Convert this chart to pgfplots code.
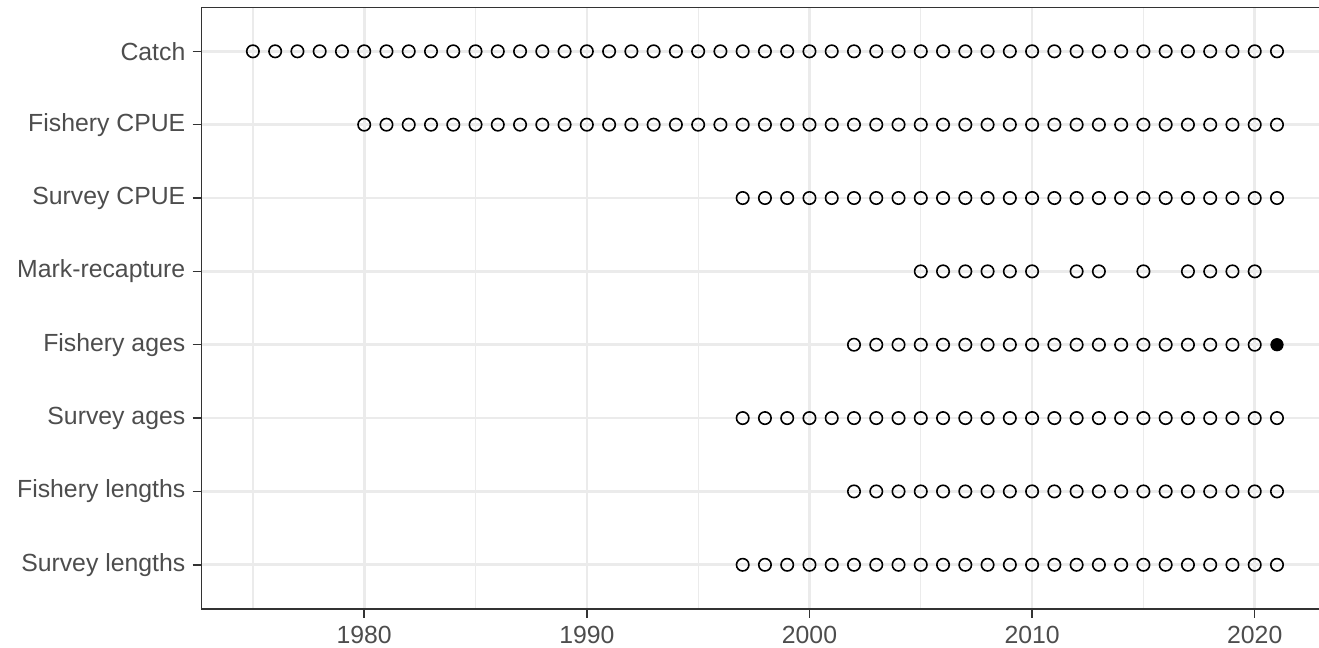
\documentclass[border=0pt]{standalone}
\usepackage{pgfplots}
\pgfplotsset{compat=1.18}
\usepackage{fontspec}
\setmainfont{Liberation Sans}
\definecolor{txtgrey}{HTML}{4D4D4D}
\definecolor{axgrey}{HTML}{333333}
\definecolor{gridgrey}{HTML}{EBEBEB}
\pgfplotsset{pt/.style={only marks, black, mark=o, mark size=3.1pt, mark options={line width=0.8pt, draw=black}}}
\begin{document}
\begin{tikzpicture}
\begin{axis}[
  at={(0,0)}, anchor=south west,
  scale only axis, width=563.25pt, height=300.75pt,
  xmin=1972.7, xmax=2023.3, ymin=0.4, ymax=8.6,
  xtick={1980,1990,2000,2010,2020},
  minor xtick={1975,1985,1995,2005,2015},
  ytick={1,2,3,4,5,6,7,8},
  yticklabels={Survey lengths,Fishery lengths,Survey ages,Fishery ages,Mark-recapture,Survey CPUE,Fishery CPUE,Catch},
  xmajorgrids, xminorgrids, ymajorgrids,
  major grid style={gridgrey, line width=1.3pt},
  minor grid style={gridgrey, line width=0.65pt},
  tick align=outside, major tick length=4.5pt, minor tick length=0pt,
  xtick pos=bottom, ytick pos=left,
  tick style={axgrey, line width=0.75pt},
  axis line style={axgrey, line width=0.75pt},
  /pgf/number format/1000 sep={},
  /pgf/number format/assume math mode=true,
  tick label style={font=\fontsize{12.4}{14}\selectfont, text=txtgrey},
  yticklabel style={inner sep=0pt, xshift=-3.5pt},
  xticklabel style={inner sep=0pt, yshift=-4pt},
]
% Catch
\addplot[pt] coordinates {(1975,8)(1976,8)(1977,8)(1978,8)(1979,8)(1980,8)(1981,8)(1982,8)(1983,8)(1984,8)(1985,8)(1986,8)(1987,8)(1988,8)(1989,8)(1990,8)(1991,8)(1992,8)(1993,8)(1994,8)(1995,8)(1996,8)(1997,8)(1998,8)(1999,8)(2000,8)(2001,8)(2002,8)(2003,8)(2004,8)(2005,8)(2006,8)(2007,8)(2008,8)(2009,8)(2010,8)(2011,8)(2012,8)(2013,8)(2014,8)(2015,8)(2016,8)(2017,8)(2018,8)(2019,8)(2020,8)(2021,8)};
% Fishery CPUE
\addplot[pt] coordinates {(1980,7)(1981,7)(1982,7)(1983,7)(1984,7)(1985,7)(1986,7)(1987,7)(1988,7)(1989,7)(1990,7)(1991,7)(1992,7)(1993,7)(1994,7)(1995,7)(1996,7)(1997,7)(1998,7)(1999,7)(2000,7)(2001,7)(2002,7)(2003,7)(2004,7)(2005,7)(2006,7)(2007,7)(2008,7)(2009,7)(2010,7)(2011,7)(2012,7)(2013,7)(2014,7)(2015,7)(2016,7)(2017,7)(2018,7)(2019,7)(2020,7)(2021,7)};
% Survey CPUE
\addplot[pt] coordinates {(1997,6)(1998,6)(1999,6)(2000,6)(2001,6)(2002,6)(2003,6)(2004,6)(2005,6)(2006,6)(2007,6)(2008,6)(2009,6)(2010,6)(2011,6)(2012,6)(2013,6)(2014,6)(2015,6)(2016,6)(2017,6)(2018,6)(2019,6)(2020,6)(2021,6)};
% Mark-recapture
\addplot[pt] coordinates {(2005,5)(2006,5)(2007,5)(2008,5)(2009,5)(2010,5)(2012,5)(2013,5)(2015,5)(2017,5)(2018,5)(2019,5)(2020,5)};
% Fishery ages
\addplot[pt] coordinates {(2002,4)(2003,4)(2004,4)(2005,4)(2006,4)(2007,4)(2008,4)(2009,4)(2010,4)(2011,4)(2012,4)(2013,4)(2014,4)(2015,4)(2016,4)(2017,4)(2018,4)(2019,4)(2020,4)};
\addplot[pt, mark=*, mark options={fill=black, draw=black}] coordinates {(2021,4)};
% Survey ages
\addplot[pt] coordinates {(1997,3)(1998,3)(1999,3)(2000,3)(2001,3)(2002,3)(2003,3)(2004,3)(2005,3)(2006,3)(2007,3)(2008,3)(2009,3)(2010,3)(2011,3)(2012,3)(2013,3)(2014,3)(2015,3)(2016,3)(2017,3)(2018,3)(2019,3)(2020,3)(2021,3)};
% Fishery lengths
\addplot[pt] coordinates {(2002,2)(2003,2)(2004,2)(2005,2)(2006,2)(2007,2)(2008,2)(2009,2)(2010,2)(2011,2)(2012,2)(2013,2)(2014,2)(2015,2)(2016,2)(2017,2)(2018,2)(2019,2)(2020,2)(2021,2)};
% Survey lengths
\addplot[pt] coordinates {(1997,1)(1998,1)(1999,1)(2000,1)(2001,1)(2002,1)(2003,1)(2004,1)(2005,1)(2006,1)(2007,1)(2008,1)(2009,1)(2010,1)(2011,1)(2012,1)(2013,1)(2014,1)(2015,1)(2016,1)(2017,1)(2018,1)(2019,1)(2020,1)(2021,1)};
\end{axis}
\pgfresetboundingbox
\useasboundingbox (-100.85pt,-19.5pt) rectangle (558.65pt,304.4pt);
\end{tikzpicture}
\end{document}
